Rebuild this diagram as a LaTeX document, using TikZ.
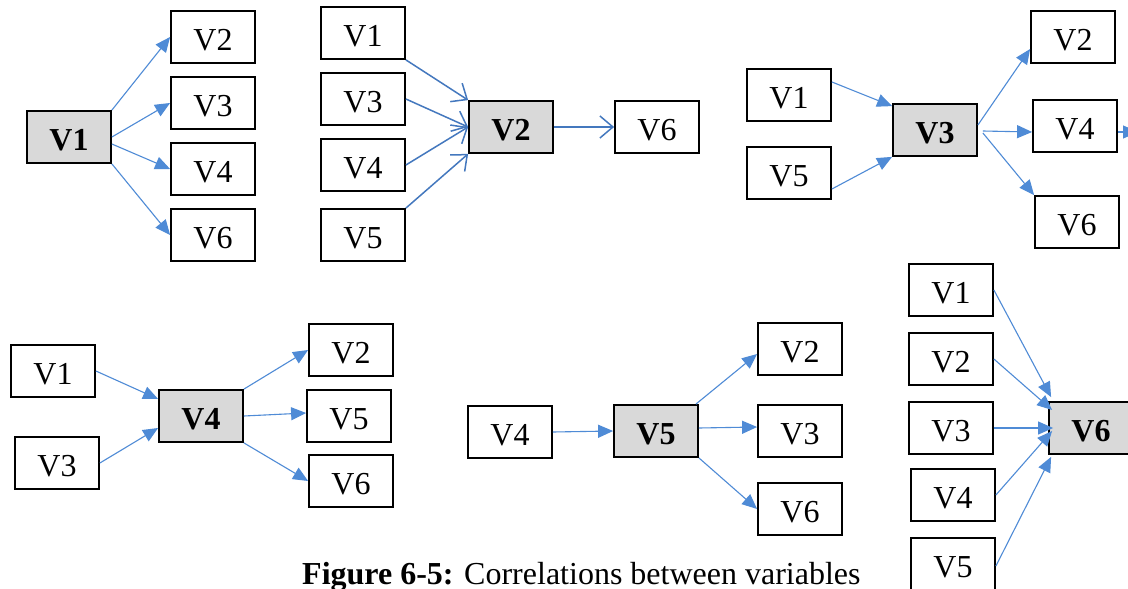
\documentclass[tikz,border=0pt]{standalone}
\usepackage{fontspec}
\setmainfont{Liberation Serif}
\usetikzlibrary{arrows.meta}
\definecolor{arrowblue}{HTML}{4F8BD6}
\definecolor{arrowdark}{HTML}{4478BE}
\definecolor{boxgray}{HTML}{D9D9D9}
\begin{document}
\begin{tikzpicture}[x=1pt,y=-1pt,
  varbox/.style={draw=black,line width=1.8pt,minimum width=84pt,minimum height=52pt,
    inner sep=0pt,text height=27pt,text depth=0pt,font=\fontsize{32}{38}\selectfont,fill=white},
  keybox/.style={varbox,fill=boxgray,font=\fontsize{32}{38}\selectfont\bfseries},
  link/.style={draw=arrowblue,line width=1.1pt,-{Triangle[length=15pt,width=13pt]}},
  openlink/.style={draw=arrowdark,line width=1.5pt,-{Straight Barb[length=13pt,width=22pt,line width=1.5pt]}}]
\clip (0,0) rectangle (1128,589);
\fill[white] (0,0) rectangle (1128,589);

% V1 and the variables it points to
\node[keybox] (g1v1) at (69,137) {V1};
\node[varbox] (g1v2) at (213,37) {V2};
\node[varbox] (g1v3) at (213,103) {V3};
\node[varbox] (g1v4) at (213,169) {V4};
\node[varbox] (g1v6) at (213,235) {V6};
\draw[link] (g1v1.north east) -- (g1v2.west);
\draw[link] (g1v1.east) -- (g1v3.west);
\draw[link] ([yshift=-7pt]g1v1.east) -- (g1v4.west);
\draw[link] (g1v1.south east) -- (g1v6.west);

% V2 with its inputs and its output
\node[varbox] (g2v1) at (363,33) {V1};
\node[varbox] (g2v3) at (363,99) {V3};
\node[varbox] (g2v4) at (363,165) {V4};
\node[varbox] (g2v5) at (363,235) {V5};
\node[keybox] (g2v2) at (511,127) {V2};
\node[varbox] (g2v6) at (657,127) {V6};
\draw[openlink] (g2v1.south east) -- (g2v2.north west);
\draw[openlink] (g2v3.east) -- (g2v2.west);
\draw[openlink] (g2v4.east) -- (g2v2.west);
\draw[openlink] (g2v5.north east) -- (g2v2.south west);
\draw[openlink] (g2v2.east) -- (g2v6.west);

% V3 with its inputs and outputs
\node[varbox] (g3v1) at (789,95) {V1};
\node[varbox] (g3v5) at (789,173) {V5};
\node[keybox] (g3v3) at (935,130) {V3};
\node[varbox] (g3v2) at (1073,37) {V2};
\node[varbox] (g3v4) at (1075,126) {V4};
\node[varbox] (g3v6) at (1077,222) {V6};
\coordinate (g3out) at (1138,132);
\draw[link] ([yshift=13pt]g3v1.east) -- ([yshift=-3pt]g3v3.north west);
\draw[link] ([yshift=-16pt]g3v5.east) -- (g3v3.south west);
\draw[link] ([yshift=5pt]g3v3.east) -- ([yshift=-12pt]g3v2.west);
\draw[link] ([xshift=5pt,yshift=-1pt]g3v3.east) -- ([yshift=-6pt]g3v4.west);
\draw[link] ([xshift=5pt,yshift=-3pt]g3v3.east) -- (g3v6.north west);
\draw[link] ([yshift=-6pt]g3v4.east) -- (g3out);

% V4 with its inputs and outputs
\node[varbox] (g4v1) at (53,371) {V1};
\node[varbox] (g4v3) at (57,463) {V3};
\node[keybox] (g4v4) at (201,416) {V4};
\node[varbox] (g4v2) at (351,350) {V2};
\node[varbox] (g4v5) at (349,416) {V5};
\node[varbox] (g4v6) at (351,481) {V6};
\draw[link] (g4v1.east) -- ([yshift=17pt]g4v4.west);
\draw[link] (g4v3.east) -- ([yshift=-12pt]g4v4.west);
\draw[link] (g4v4.north east) -- (g4v2.west);
\draw[link] (g4v4.east) -- ([yshift=3pt]g4v5.west);
\draw[link] (g4v4.south east) -- (g4v6.west);

% V5 with its input and outputs
\node[varbox] (g5v4) at (510,432) {V4};
\node[keybox] (g5v5) at (656,431) {V5};
\node[varbox] (g5v2) at (800,349) {V2};
\node[varbox] (g5v3) at (800,431) {V3};
\node[varbox] (g5v6) at (800,509) {V6};
\draw[link] (g5v4.east) -- (g5v5.west);
\draw[link] ([xshift=-3pt]g5v5.north east) -- ([yshift=-5pt]g5v2.west);
\draw[link] ([yshift=3pt]g5v5.east) -- ([yshift=4pt]g5v3.west);
\draw[link] (g5v5.south east) -- (g5v6.west);

% V6 and the variables pointing to it
\node[varbox] (g6v1) at (951,290) {V1};
\node[varbox] (g6v2) at (951,359) {V2};
\node[varbox] (g6v3) at (951,428) {V3};
\node[varbox] (g6v4) at (953,495) {V4};
\node[varbox] (g6v5) at (953,564) {V5};
\node[keybox] (g6v6) at (1091,428) {V6};
\draw[link] (g6v1.east) -- ([xshift=3pt,yshift=4pt]g6v6.north west);
\draw[link] (g6v2.east) -- ([xshift=4pt,yshift=18pt]g6v6.west);
\draw[link] (g6v3.east) -- ([xshift=5pt]g6v6.west);
\draw[link] (g6v4.east) -- ([xshift=4pt,yshift=-3pt]g6v6.west);
\draw[link] ([yshift=-2pt]g6v5.east) -- ([xshift=3pt,yshift=-2pt]g6v6.south west);

% caption
\node[anchor=base west,inner sep=0pt,font=\fontsize{32}{38}\selectfont] (caption) at (302,584)
  {\textbf{Figure 6-5:} Correlations between variables};
\end{tikzpicture}
\end{document}
